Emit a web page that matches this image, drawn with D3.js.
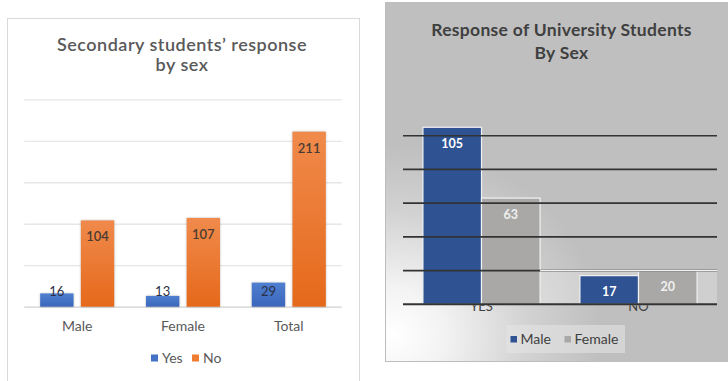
<!DOCTYPE html>
<html>
<head>
<meta charset="utf-8">
<script src="https://cdn.jsdelivr.net/npm/d3@7"></script>
<style>
  html, body { margin: 0; padding: 0; background: #fff; }
  svg { display: block; font-family: Lato, "Open Sans", sans-serif; }
</style>
</head>
<body>
<svg id="chart" width="728" height="381"></svg>
<script>
// Secondary school survey
const secCategories = ["Male", "Female", "Total"];
const secSeries = ["Yes", "No"];
const secYes = [16, 13, 29];
const secNo = [104, 107, 211];
const secTicks = [0, 50, 100, 150, 200, 250];

// University survey
const uniCategories = ["YES", "NO"];
const uniSeries = ["Male", "Female"];
const uniMale = [105, 17];
const uniFemale = [63, 20];
const uniTicks = [0, 20, 40, 60, 80, 100];

const svg = d3.select("#chart");
const defs = svg.append("defs");

// ---------- Left chart ----------
const gradYes = defs.append("linearGradient").attr("id", "gYes").attr("x1", 0).attr("y1", 0).attr("x2", 0).attr("y2", 1);
gradYes.append("stop").attr("offset", 0).attr("stop-color", "#4f7fd0");
gradYes.append("stop").attr("offset", 1).attr("stop-color", "#3a66bb");
const gradNo = defs.append("linearGradient").attr("id", "gNo").attr("x1", 0).attr("y1", 0).attr("x2", 0).attr("y2", 1);
gradNo.append("stop").attr("offset", 0).attr("stop-color", "#f08a4b");
gradNo.append("stop").attr("offset", 1).attr("stop-color", "#e5691b");

const left = svg.append("g");
left.append("rect").attr("x", 7.5).attr("y", 18.5).attr("width", 352).attr("height", 380)
  .attr("fill", "#fff").attr("stroke", "#d9d9d9");

left.append("text").attr("x", 182).attr("y", 51).attr("text-anchor", "middle")
  .attr("font-size", 18).attr("font-weight", 600).attr("fill", "#595959")
  .attr("letter-spacing", 0.5).text("Secondary students’ response");
left.append("text").attr("x", 182).attr("y", 71).attr("text-anchor", "middle")
  .attr("font-size", 18).attr("font-weight", 600).attr("fill", "#595959")
  .attr("letter-spacing", 0.5).text("by sex");

const lx = d3.scaleBand().domain(secCategories).range([24.3, 341.7]).paddingInner(0).paddingOuter(0);
const ly = d3.scaleLinear().domain([0, 250]).range([306.7, 99.3]);
const lsub = d3.scaleBand().domain(secSeries).range([0, lx.bandwidth()]).paddingInner(0.18).paddingOuter(0.39);

left.append("g").selectAll("line").data(secTicks).join("line")
  .attr("x1", 24.3).attr("x2", 341.7)
  .attr("y1", d => ly(d) + 0.5).attr("y2", d => ly(d) + 0.5)
  .attr("stroke", d => d === 0 ? "#d0d0d0" : "#e6e6e6").attr("stroke-width", 1.3);

const secRows = secCategories.map((c, i) => ({ cat: c, vals: [
  { s: "Yes", v: secYes[i] }, { s: "No", v: secNo[i] } ] }));

const lg = left.append("g").selectAll("g").data(secRows).join("g")
  .attr("transform", d => `translate(${lx(d.cat)},0)`);
lg.selectAll("rect").data(d => d.vals).join("rect")
  .attr("x", d => lsub(d.s)).attr("width", lsub.bandwidth())
  .attr("y", d => ly(d.v)).attr("height", d => ly(0) - ly(d.v))
  .attr("fill", d => d.s === "Yes" ? "url(#gYes)" : "url(#gNo)")
  .style("filter", "drop-shadow(0.5px 0.5px 0.8px rgba(0,0,0,0.25))");
lg.selectAll("text").data(d => d.vals).join("text")
  .attr("x", d => lsub(d.s) + lsub.bandwidth() / 2)
  .attr("y", d => Math.min(ly(d.v) + 16.5, ly(0) - 15) + 4.5)
  .attr("text-anchor", "middle").attr("font-size", 13)
  .attr("font-weight", d => d.s === "No" ? 600 : 400)
  .attr("fill", d => d.s === "No" ? "#4a3b33" : "#2b2f45")
  .text(d => d.v);

left.append("g").attr("transform", `translate(0,${ly(0)})`)
  .call(d3.axisBottom(lx).tickSize(0).tickPadding(14))
  .call(g => g.select(".domain").remove())
  .call(g => g.selectAll("text").attr("font-size", 14).attr("fill", "#595959")
    .attr("font-family", "Lato, 'Open Sans', sans-serif"));

const secColors = { Yes: "#4472c4", No: "#ed7d31" };
const ll = left.append("g");
const lLegend = [{ s: "Yes", x: 151 }, { s: "No", x: 192 }];
ll.selectAll("rect").data(lLegend).join("rect")
  .attr("x", d => d.x).attr("y", 354.5).attr("width", 7).attr("height", 7)
  .attr("fill", d => secColors[d.s]);
ll.selectAll("text").data(lLegend).join("text")
  .attr("x", d => d.x + 11).attr("y", 363).attr("font-size", 14).attr("fill", "#595959")
  .text(d => d.s);

// ---------- Right chart ----------
const bg = defs.append("radialGradient").attr("id", "bgR").attr("gradientUnits", "userSpaceOnUse")
  .attr("cx", 392).attr("cy", 335).attr("r", 200)
  .attr("gradientTransform", "translate(392,335) scale(1.05,0.95) translate(-392,-335)");
bg.append("stop").attr("offset", 0).attr("stop-color", "#ffffff");
bg.append("stop").attr("offset", 0.25).attr("stop-color", "#f3f3f3");
bg.append("stop").attr("offset", 0.65).attr("stop-color", "#d2d2d2");
bg.append("stop").attr("offset", 1).attr("stop-color", "#bfbfbf");

const right = svg.append("g");
right.append("rect").attr("x", 385.5).attr("y", 2.5).attr("width", 345).attr("height", 359)
  .attr("fill", "url(#bgR)").attr("stroke", "#bdbdbd");

right.append("text").attr("x", 561.5).attr("y", 36).attr("text-anchor", "middle")
  .attr("font-size", 17.5).attr("font-weight", 700).attr("fill", "#404040")
  .attr("letter-spacing", 0.3).text("Response of University Students");
right.append("text").attr("x", 561.5).attr("y", 59).attr("text-anchor", "middle")
  .attr("font-size", 17.5).attr("font-weight", 700).attr("fill", "#404040")
  .attr("letter-spacing", 0.3).text("By Sex");

const rx = d3.scaleBand().domain(uniCategories).range([403, 717]).paddingInner(0).paddingOuter(0);
const ry = d3.scaleLinear().domain([0, 100]).range([304.3, 135.7]);
const rsub = d3.scaleBand().domain(uniSeries).range([0, rx.bandwidth()]).paddingInner(0).paddingOuter(0.34);
const uniColors = { Male: "#2e5292", Female: "#a9a8a6" };

// light band below the first gridline, outside the YES group
const bandX0 = rx("YES") + rsub("Female") + rsub.bandwidth();
right.append("rect").attr("x", bandX0).attr("width", 717 - bandX0)
  .attr("y", ry(20)).attr("height", ry(0) - ry(20))
  .attr("fill", "rgba(255,255,255,0.25)");

const uniRows = uniCategories.map((c, i) => ({ cat: c, vals: [
  { s: "Male", v: uniMale[i] }, { s: "Female", v: uniFemale[i] } ] }));

const rg = right.append("g").selectAll("g").data(uniRows).join("g")
  .attr("transform", d => `translate(${rx(d.cat)},0)`);
rg.selectAll("rect").data(d => d.vals).join("rect")
  .attr("x", d => rsub(d.s)).attr("width", rsub.bandwidth())
  .attr("y", d => ry(d.v)).attr("height", d => ry(0) - ry(d.v))
  .attr("fill", d => uniColors[d.s]).attr("stroke", "#f2f2f2").attr("stroke-width", 1.2);

// gridlines are drawn over the bars
right.append("g").selectAll("line").data(uniTicks).join("line")
  .attr("x1", 403).attr("x2", 717)
  .attr("y1", d => ry(d)).attr("y2", d => ry(d))
  .attr("stroke", "#333333").attr("stroke-width", d => d === 0 ? 2 : 1.6);

// white edge along the top of the band to the right of the YES group
right.append("line").attr("x1", bandX0).attr("x2", 717)
  .attr("y1", ry(20)).attr("y2", ry(20)).attr("stroke", "#f2f2f2").attr("stroke-width", 1.4);

rg.selectAll("text").data(d => d.vals).join("text")
  .attr("x", d => rsub(d.s) + rsub.bandwidth() / 2)
  .attr("y", d => ry(d.v) + 16 + 4.5)
  .attr("text-anchor", "middle").attr("font-size", 12.5).attr("font-weight", 700)
  .attr("fill", d => d.s === "Male" ? "#ffffff" : "#f0f0f0")
  .text(d => d.v);

// category labels sit partly behind the axis line
defs.append("clipPath").attr("id", "axClip").append("rect")
  .attr("x", 385).attr("y", ry(0) + 1).attr("width", 345).attr("height", 30);
right.append("g").attr("clip-path", "url(#axClip)")
  .selectAll("text").data(uniCategories).join("text")
  .attr("x", d => rx(d) + rx.bandwidth() / 2).attr("y", ry(0) + 6.5)
  .attr("text-anchor", "middle").attr("font-size", 13).attr("fill", "#404040")
  .text(d => d);

// legend
const rl = right.append("g");
rl.append("rect").attr("x", 506.5).attr("y", 325).attr("width", 118.5).attr("height", 28)
  .attr("fill", "rgba(230,230,230,0.55)");
const rLegend = [{ s: "Male", x: 510.5 }, { s: "Female", x: 564.5 }];
rl.selectAll(".sw").data(rLegend).join("rect").attr("class", "sw")
  .attr("x", d => d.x).attr("y", 336).attr("width", 6.5).attr("height", 6.5)
  .attr("fill", d => uniColors[d.s]);
rl.selectAll("text").data(rLegend).join("text")
  .attr("x", d => d.x + 10).attr("y", 343.5).attr("font-size", 14).attr("fill", "#404040")
  .text(d => d.s);
</script>
</body>
</html>
